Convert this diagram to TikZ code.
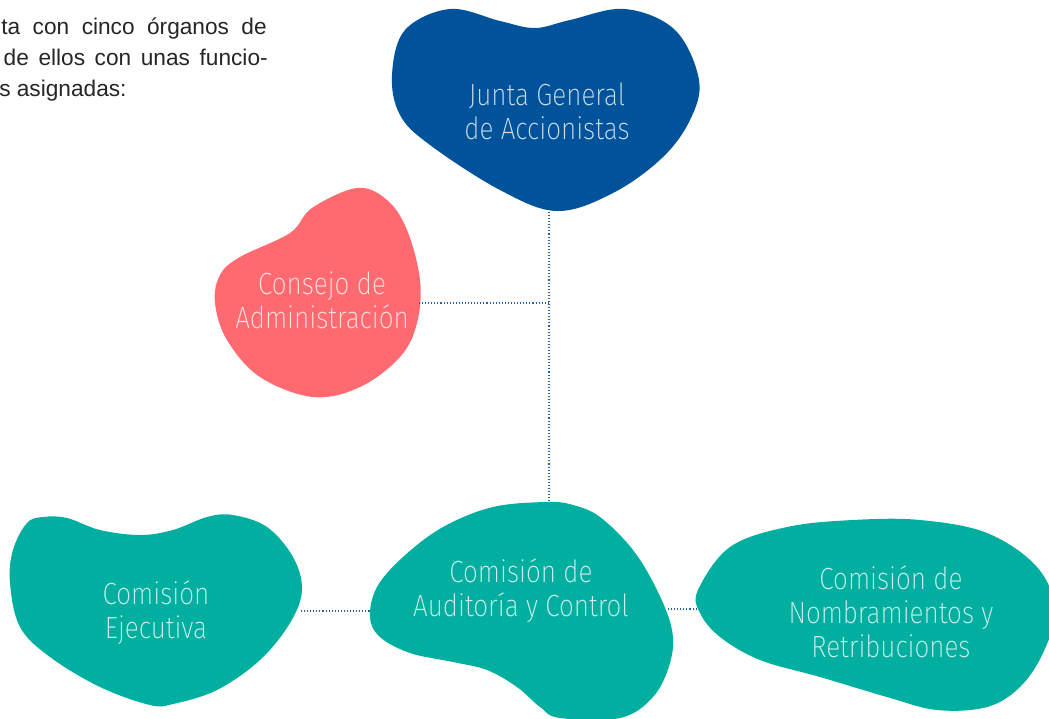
\documentclass[tikz,border=0pt]{standalone}
\usepackage{fontspec}
\setmainfont{Liberation Sans}
\newfontfamily\blobfont{Fira Sans}[UprightFont=* ExtraLight, FakeStretch=0.85]
\usetikzlibrary{positioning}

\definecolor{juntablue}{RGB}{0,83,155}
\definecolor{consejored}{RGB}{255,106,112}
\definecolor{comteal}{RGB}{0,175,160}
\definecolor{dotblue}{RGB}{40,95,160}

\begin{document}
\begin{tikzpicture}[
  x=0.75pt, y=-0.75pt,
  intro/.style     = {font=\fontsize{17}{24}\selectfont, text=black!85, inner sep=0pt},
  blob text/.style = {font=\blobfont\fontsize{23}{25.5}\selectfont, align=center, inner sep=0pt},
  blob/.style      = {smooth cycle, tension=0.6},
  link/.style      = {dotblue, line width=0.9pt, dash pattern=on 0.8pt off 1.5pt},
]
\useasboundingbox (0,0) rectangle (1049,718);
\clip (0,0) rectangle (1049,718);

% =============================================================
% Intro text (cut at the left edge)
% =============================================================
\node[intro, anchor=base east] (intro1) at (267,34) {\makebox[199pt][s]{ta con cinco órganos de}};
\node[intro, anchor=base east] (intro2) at (268,65) {\makebox[198pt][s]{de ellos con unas funcio-}};
\node[intro, anchor=base west] (intro3) at (-1,96)  {s asignadas:};

% =============================================================
% Blobs
% =============================================================
% Junta General
\fill[juntablue] plot[blob] coordinates {
  (392,75) (405,30) (450,9) (500,21) (535,28) (570,20) (625,9) (675,30)
  (699,80) (690,120) (662,158) (613,193) (557,211) (500,190) (430,145) (400,115)};
% Consejo
\fill[consejored] plot[blob] coordinates {
  (357,188) (387,200) (407,230) (420,280) (417,323) (400,357) (360,387) (313,397)
  (260,377) (227,340) (215,303) (220,275) (240,257) (290,233) (312,208)};
% Comision Ejecutiva
\fill[comteal] plot[blob] coordinates {
  (43,517) (67,518) (100,530) (140,535) (173,530) (207,517) (233,515) (267,527)
  (293,557) (302,590) (290,623) (260,660) (217,690) (173,704) (150,705) (100,687)
  (50,657) (20,627) (10,583) (13,550) (27,523)};
% Comision de Auditoria
\fill[comteal] plot[blob] coordinates {
  (547,502) (573,505) (600,517) (633,550) (657,590) (672,630) (670,663) (653,697)
  (620,718) (560,718) (540,707) (517,687) (487,670) (453,662) (410,653) (380,637)
  (370,617) (377,587) (403,557) (443,527) (493,507)};
% Comision de Nombramientos
\fill[comteal] plot[blob] coordinates {
  (698,590) (730,547) (787,527) (853,520) (920,520) (987,533) (1037,567) (1055,610)
  (1043,653) (1020,687) (987,707) (937,710) (887,697) (820,677) (760,660) (720,637) (700,613)};

% labels
\node[blob text, text=white!80!juntablue]  (jga) at (547,111) {Junta General\\de Accionistas};
\node[blob text, text=white!80!consejored] (cda) at (322,300) {Consejo de\\Administración};
\node[blob text, text=white!80!comteal]    (ce)  at (156,613) {Comisión\\Ejecutiva};
\node[blob text, text=white!80!comteal]    (cac) at (521,591) {Comisión de\\Auditoría y Control};
\node[blob text, text=white!80!comteal]    (cnr) at (891,612) {Comisión de\\Nombramientos y\\Retribuciones};

% =============================================================
% Dotted links
% =============================================================
\coordinate (jga bot)  at (549,212);
\coordinate (cac top)  at (549,501);
\coordinate (hub)      at (549,303);
\coordinate (cda east) at (419,303);
\coordinate (ce east)  at (301,611);
\coordinate (cac west) at (371,611);
\coordinate (cac east) at (668,609);
\coordinate (cnr west) at (698,609);

\draw[link] (jga bot) -- (cac top);
\draw[link] (cda east) -- (hub);
\draw[link] (ce east) -- (cac west);
\draw[link] (cac east) -- (cnr west);

\end{tikzpicture}
\end{document}
